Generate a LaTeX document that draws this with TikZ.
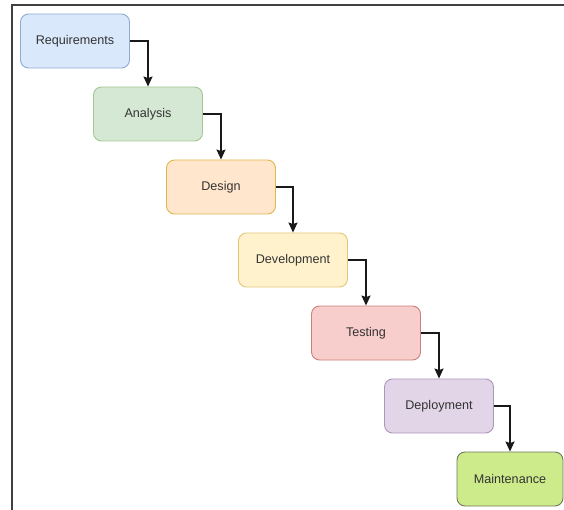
\documentclass[tikz,border=0pt]{standalone}
\usepackage{fontspec}
\setmainfont{Liberation Sans}
\usetikzlibrary{arrows.meta}
\definecolor{fBlue}{HTML}{DAE8FC}\definecolor{sBlue}{HTML}{8FAAD6}
\definecolor{fGreen}{HTML}{D5E8D4}\definecolor{sGreen}{HTML}{A3C893}
\definecolor{fOrange}{HTML}{FFE6CC}\definecolor{sOrange}{HTML}{E3B54D}
\definecolor{fYellow}{HTML}{FFF2CC}\definecolor{sYellow}{HTML}{E0C77A}
\definecolor{fRed}{HTML}{F8CECC}\definecolor{sRed}{HTML}{CC7F7C}
\definecolor{fPurple}{HTML}{E1D5E7}\definecolor{sPurple}{HTML}{AE95BD}
\definecolor{fLime}{HTML}{CDEB8B}\definecolor{sLime}{HTML}{6E7A58}
\definecolor{txt}{HTML}{333333}
\tikzset{
  phase/.style={draw, rounded corners=8pt, line width=0.9pt, minimum width=109pt, minimum height=54pt,
    inner sep=0pt, text=txt, font=\fontsize{12.6}{14}\selectfont},
  flow/.style={line width=1.5pt, black!90, -{Stealth[length=10pt,width=9pt,inset=1.5pt]}},
  frame/.style={line width=2pt, draw=black!75}
}
\begin{document}
\begin{tikzpicture}[x=1pt,y=-1pt]
\useasboundingbox (0,0) rectangle (564,510);
\coordinate (fa) at (12,510);
\coordinate (fb) at (12,5);
\coordinate (fc) at (564,5);
\draw[frame] (fa) -- (fb) -- (fc);
\node[phase, fill=fBlue, draw=sBlue] (req) at (75,41) {Requirements};
\node[phase, fill=fGreen, draw=sGreen] (ana) at (148,114) {Analysis};
\node[phase, fill=fOrange, draw=sOrange] (des) at (221,187) {Design};
\node[phase, fill=fYellow, draw=sYellow] (dev) at (293,260) {Development};
\node[phase, fill=fRed, draw=sRed] (tes) at (366,333) {Testing};
\node[phase, fill=fPurple, draw=sPurple] (dep) at (439,406) {Deployment};
\node[phase, fill=fLime, draw=sLime, minimum width=106pt] (mai) at (510,479) {Maintenance};
\draw[flow] (req.east) -| (ana.north);
\draw[flow] (ana.east) -| (des.north);
\draw[flow] (des.east) -| (dev.north);
\draw[flow] (dev.east) -| (tes.north);
\draw[flow] (tes.east) -| (dep.north);
\draw[flow] (dep.east) -| (mai.north);
\end{tikzpicture}
\end{document}
